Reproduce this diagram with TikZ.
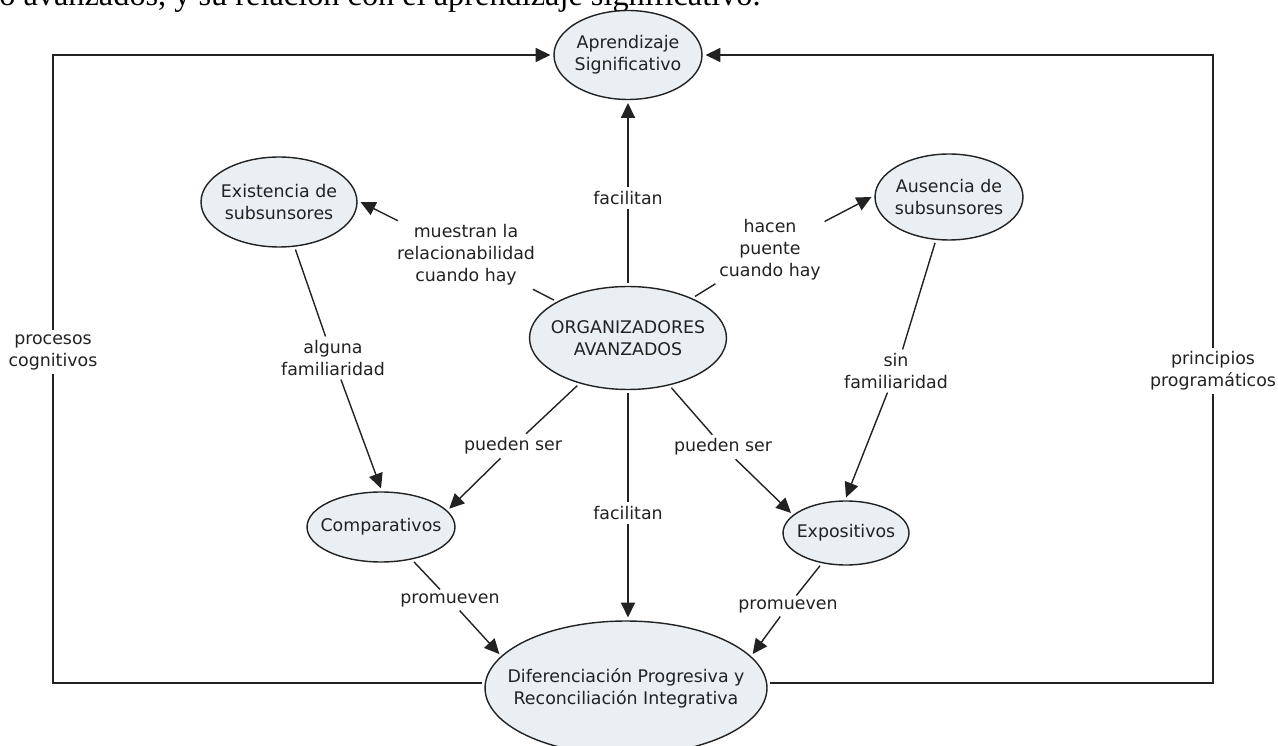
\documentclass[tikz,border=0pt]{standalone}
\usepackage{fontspec}
\setmainfont{DejaVu Sans}
\newfontfamily\pageserif{Liberation Serif}
\usetikzlibrary{shapes.geometric,arrows.meta}
\definecolor{conceptfill}{RGB}{233,239,243}
\definecolor{inkgray}{RGB}{34,34,34}

\begin{document}
\begin{tikzpicture}[x=0.02cm,y=-0.02cm,
  concept/.style={draw=inkgray, line width=0.8pt, fill=conceptfill, ellipse, align=center,
    inner sep=-1cm, outer sep=2pt, text=inkgray, font=\fontsize{9.9}{12.5}\selectfont},
  linklabel/.style={align=center, inner sep=2pt, text=inkgray, font=\fontsize{9.9}{12.5}\selectfont},
  link/.style={draw=inkgray, line width=0.8pt},
  arr/.style={link, -{Triangle[length=8.5pt,width=8pt]}}]
\clip (0,0) rectangle (1278,746);
\useasboundingbox (0,0) rectangle (1278,746);

% line of the page above the map
\node[anchor=base west, inner sep=0pt, font=\pageserif\fontsize{18.4}{22}\selectfont] (pagetext) at (-1,6) {o avanzados, y su relación con el aprendizaje significativo.};

% concepts
\node[concept, minimum width=2.96cm, minimum height=1.78cm] (apr) at (628,55) {Aprendizaje\\Significativo};
\node[concept, minimum width=3.12cm, minimum height=1.8cm] (exi) at (279,202) {Existencia de\\subsunsores};
\node[concept, minimum width=2.96cm, minimum height=1.72cm] (aus) at (949,197) {Ausencia de\\subsunsores};
\node[concept, minimum width=3.94cm, minimum height=2.06cm] (org) at (628,338) {ORGANIZADORES\\AVANZADOS};
\node[concept, minimum width=2.96cm, minimum height=1.4cm] (com) at (381,527) {Comparativos};
\node[concept, minimum width=2.52cm, minimum height=1.28cm] (exp) at (846,533) {Expositivos};
\node[concept, minimum width=5.64cm, minimum height=2.68cm] (dif) at (626,688) {Diferenciación Progresiva y\\Reconciliación Integrativa};

% linking phrases
\node[linklabel] (fac1) at (628,198) {facilitan};
\node[linklabel] (mues) at (466,255) {muestran la\\relacionabilidad\\cuando hay};
\node[linklabel] (hac) at (770,250) {hacen\\puente\\cuando hay};
\node[linklabel] (alg) at (333,358) {alguna\\familiaridad};
\node[linklabel] (sin) at (896,371) {sin\\familiaridad};
\node[linklabel] (pue1) at (513,446) {pueden ser};
\node[linklabel] (pue2) at (723,447) {pueden ser};
\node[linklabel] (fac2) at (628,513) {facilitan};
\node[linklabel] (pro1) at (450,600) {promueven};
\node[linklabel] (pro2) at (788,606) {promueven};
\node[linklabel] (proc) at (53,352) {procesos\\cognitivos};
\node[linklabel] (prin) at (1213,371) {principios\\programáticos};

% links
\draw[link] (org) -- (fac1);
\draw[arr] (fac1) -- (apr);
\draw[link] (org) -- (mues);
\draw[arr] (mues) -- (exi.east);
\draw[link] (org) -- (hac);
\draw[arr] (hac) -- (aus.west);
\draw[link] (exi) -- (alg);
\draw[arr] (alg) -- (com.north);
\draw[link] (aus) -- (sin);
\draw[arr] (sin) -- (exp.north);
\draw[link] (org) -- (pue1);
\draw[arr] (pue1) -- (com.15);
\draw[link] (org) -- (pue2);
\draw[arr] (pue2) -- (exp.160);
\draw[link] (org) -- (fac2);
\draw[arr] (fac2) -- (fac2 |- dif.north);
\draw[link] (com) -- (pro1);
\draw[arr] (pro1) -- (dif.165);
\draw[link] (exp) -- (pro2);
\draw[arr] (pro2) -- (dif.15);
\draw[link] (dif.178) -| (proc);
\draw[arr] (proc) |- (apr.west);
\draw[link] (dif.2) -| (prin);
\draw[arr] (prin) |- (apr.east);
\end{tikzpicture}
\end{document}
